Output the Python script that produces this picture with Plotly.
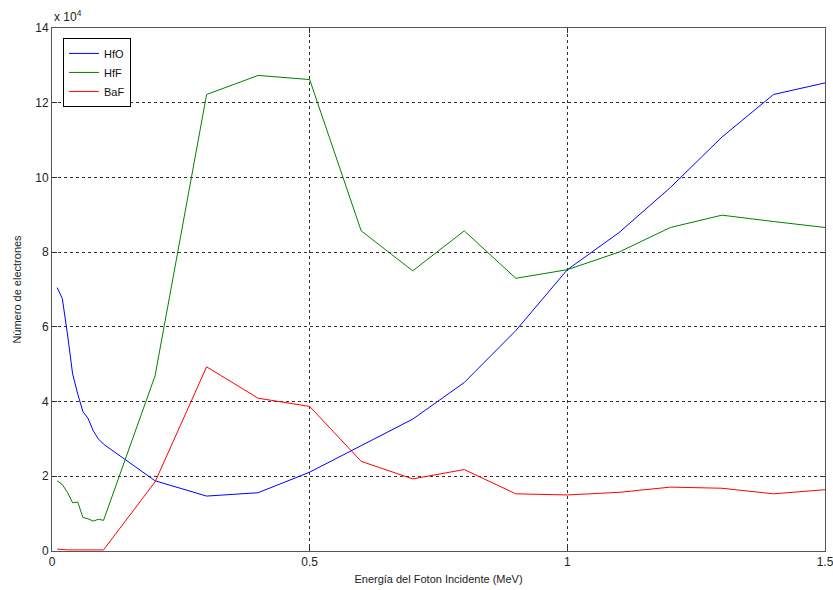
import plotly.graph_objects as go

# Photon energy grid (MeV)
energy = [0.01, 0.02, 0.03, 0.04, 0.05, 0.06, 0.07, 0.08, 0.09, 0.10,
          0.2, 0.3, 0.4, 0.5, 0.6, 0.7, 0.8, 0.9, 1.0,
          1.1, 1.2, 1.3, 1.4, 1.5]

# Number of electrons, in units of 1e4
hfo = [7.05, 6.76, 5.81, 4.74, 4.20, 3.73, 3.55, 3.22, 3.00, 2.86,
       1.88, 1.47, 1.56, 2.11, 2.82, 3.53, 4.51, 5.90, 7.53,
       8.52, 9.73, 11.08, 12.22, 12.53]
hff = [1.88, 1.78, 1.57, 1.29, 1.31, 0.90, 0.86, 0.80, 0.85, 0.82,
       4.69, 12.22, 12.73, 12.62, 8.57, 7.50, 8.57, 7.30, 7.53,
       8.00, 8.66, 8.99, 8.82, 8.66]
baf = [0.05, 0.03, 0.03, 0.03, 0.03, 0.03, 0.03, 0.03, 0.03, 0.03,
       1.85, 4.93, 4.09, 3.87, 2.40, 1.93, 2.18, 1.53, 1.50,
       1.57, 1.71, 1.68, 1.53, 1.64]

x_ticks = [0, 0.5, 1, 1.5]
x_tick_text = ["0", "0.5", "1", "1.5"]
y_ticks = [0, 2, 4, 6, 8, 10, 12, 14]

series = [("HfO", hfo, "#0000ff"), ("HfF", hff, "#008000"), ("BaF", baf, "#ff0000")]

fig = go.Figure()
for name, vals, color in series:
    fig.add_trace(go.Scatter(x=energy, y=vals, mode="lines", name=name,
                             line=dict(color=color, width=1)))

font = dict(family="Liberation Sans, Arial, sans-serif", size=12, color="#222222")
axis_common = dict(
    showline=True, linecolor="#555555", linewidth=1, mirror="ticks",
    ticks="inside", ticklen=5, tickcolor="#333333",
    showgrid=True, gridcolor="#333333", gridwidth=1, griddash="3px,3px",
    zeroline=False, tickfont=font, ticklabeloverflow="allow", automargin=False,
)

fig.update_layout(
    width=833, height=590,
    margin=dict(l=52, r=8, t=28, b=39),
    paper_bgcolor="white", plot_bgcolor="white",
    font=font,
    xaxis=dict(range=[0, 1.5], tickvals=x_ticks, ticktext=x_tick_text,
               title=dict(text="Energía del Foton Incidente (MeV)",
                          font=dict(size=11, family=font["family"], color="#222222"),
                          standoff=6),
               **axis_common),
    yaxis=dict(range=[0, 14], tickvals=y_ticks,
               title=dict(text="Número de electrones",
                          font=dict(size=11, family=font["family"], color="#222222"),
                          standoff=11),
               **axis_common),
    legend=dict(x=0.0142, y=0.981, xanchor="left", yanchor="top",
                bgcolor="white", bordercolor="black", borderwidth=1,
                font=dict(size=11, family=font["family"], color="#111111"),
                tracegroupgap=0, itemwidth=30),
    showlegend=True,
    annotations=[dict(text="x 10<sup>4</sup>", xref="paper", yref="paper",
                      x=0, y=1, xanchor="left", yanchor="bottom", yshift=2,
                      showarrow=False, font=dict(size=12, family=font["family"], color="#222222"))],
)

fig.write_html("out.html")
